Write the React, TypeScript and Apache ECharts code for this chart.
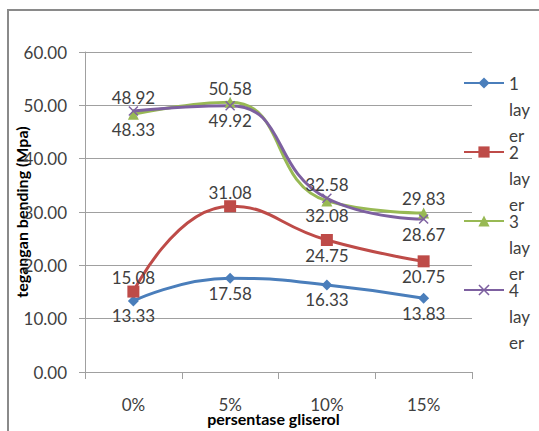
import React, { useEffect, useRef } from "react";
import * as echarts from "echarts";

// Bending stress (MPa) per glycerol percentage, one series per layer count
const categories = ["0%", "5%", "10%", "15%"];
const layer1 = [13.33, 17.58, 16.33, 13.83];
const layer2 = [15.08, 31.08, 24.75, 20.75];
const layer3 = [48.33, 50.58, 32.08, 29.83];
const layer4 = [48.92, 49.92, 32.58, 28.67];
const seriesNames = ["1 layer", "2 layer", "3 layer", "4 layer"];
const yMin = 0;
const yMax = 60;
const yStep = 10;

const FONT = "Lato, 'Open Sans', sans-serif";
const TEXT = "#404040";
const GRID = "#a0a0a0";
const COLORS = ["#4a7ebb", "#be4b48", "#98b954", "#7d60a0"];
const CROSS =
  "path://M0,1 L1,0 L5,4 L9,0 L10,1 L6,5 L10,9 L9,10 L5,6 L1,10 L0,9 L4,5 Z";

type Side = "above" | "below";

// Value labels sit centred on the marker and are pushed up or down
function points(values: number[], side: (i: number) => Side) {
  return values.map((v, i) => ({
    value: v,
    label: { offset: [0, side(i) === "above" ? -14 : 15] },
  }));
}

function lineSeries(
  name: string,
  color: string,
  symbol: string,
  symbolSize: number,
  data: ReturnType<typeof points>
) {
  return {
    name,
    type: "line",
    smooth: 0.5,
    data,
    symbol,
    symbolSize,
    showAllSymbol: true,
    lineStyle: { color, width: 3 },
    itemStyle: { color },
    label: {
      show: true,
      position: "inside",
      fontFamily: FONT,
      fontSize: 17,
      color: TEXT,
      formatter: (p: any) => Number(p.value).toFixed(2),
    },
  };
}

// Wraps "1 layer" into the narrow legend column: "1 / lay / er".
// Two leading empty lines keep the first line level with the legend icon.
function wrapName(name: string) {
  const [num, word] = name.split(" ");
  return `\n\n${num}\n${word.slice(0, 3)}\n${word.slice(3)}`;
}

export default function App() {
  const ref = useRef<HTMLDivElement>(null);

  useEffect(() => {
    if (!ref.current) return;
    const chart = echarts.init(ref.current, undefined, { renderer: "svg" });

    const higher = (a: number[], b: number[]) => (i: number): Side =>
      a[i] >= b[i] ? "above" : "below";

    const legends = seriesNames.map((n, k) => ({
      data: [n],
      left: 463,
      top: 18 + k * 69,
      orient: "vertical",
      padding: 0,
      itemGap: 0,
      itemWidth: 40,
      itemHeight: 14,
      formatter: wrapName,
      textStyle: {
        fontFamily: FONT,
        fontSize: 17,
        color: TEXT,
        lineHeight: 26,
      },
    }));

    chart.setOption({
      animation: false,
      backgroundColor: "#ffffff",
      textStyle: { fontFamily: FONT },
      graphic: [
        {
          type: "rect",
          shape: { x: 8, y: 10, width: 545, height: 440 },
          style: { fill: "none", stroke: "#8a8a8a", lineWidth: 2 },
          silent: true,
        },
      ],
      legend: legends,
      grid: {
        left: 85,
        right: 67,
        top: 52,
        bottom: 59,
        containLabel: false,
        outerBoundsMode: "none",
      },
      xAxis: {
        type: "category",
        data: categories,
        boundaryGap: true,
        name: "persentase gliserol",
        nameLocation: "middle",
        nameGap: 38,
        nameMoveOverlap: false,
        nameTextStyle: {
          fontFamily: FONT,
          fontSize: 16,
          fontWeight: "bold",
          color: "#000",
          padding: [0, 10, 0, 0],
        },
        axisLine: { lineStyle: { color: GRID, width: 1 } },
        axisTick: { show: true, length: 7, lineStyle: { color: GRID } },
        axisLabel: {
          fontFamily: FONT,
          fontSize: 17,
          color: TEXT,
          margin: 24,
        },
      },
      yAxis: {
        type: "value",
        min: yMin,
        max: yMax,
        interval: yStep,
        name: "tegangan bending (Mpa)",
        nameLocation: "middle",
        nameGap: 56,
        nameRotate: 90,
        nameMoveOverlap: false,
        nameTextStyle: {
          fontFamily: FONT,
          fontSize: 16,
          fontWeight: "bold",
          color: "#000",
        },
        axisLine: { show: true, lineStyle: { color: GRID, width: 1 } },
        axisTick: { show: true, length: 6, lineStyle: { color: GRID } },
        splitLine: { show: true, lineStyle: { color: GRID, width: 1 } },
        axisLabel: {
          fontFamily: FONT,
          fontSize: 17,
          color: TEXT,
          margin: 18,
          formatter: (v: number) => v.toFixed(2),
        },
      },
      series: [
        lineSeries(seriesNames[0], COLORS[0], "diamond", 11, points(layer1, () => "below")),
        lineSeries(
          seriesNames[1],
          COLORS[1],
          "rect",
          12,
          points(layer2, (i) => (i < 2 ? "above" : "below"))
        ),
        lineSeries(seriesNames[2], COLORS[2], "triangle", 11, points(layer3, higher(layer3, layer4))),
        lineSeries(seriesNames[3], COLORS[3], CROSS, 10, points(layer4, higher(layer4, layer3))),
      ],
    });

    return () => chart.dispose();
  }, []);

  return (
    <div
      ref={ref}
      style={{ position: "absolute", left: 0, top: 0, width: 539, height: 431 }}
    />
  );
}
